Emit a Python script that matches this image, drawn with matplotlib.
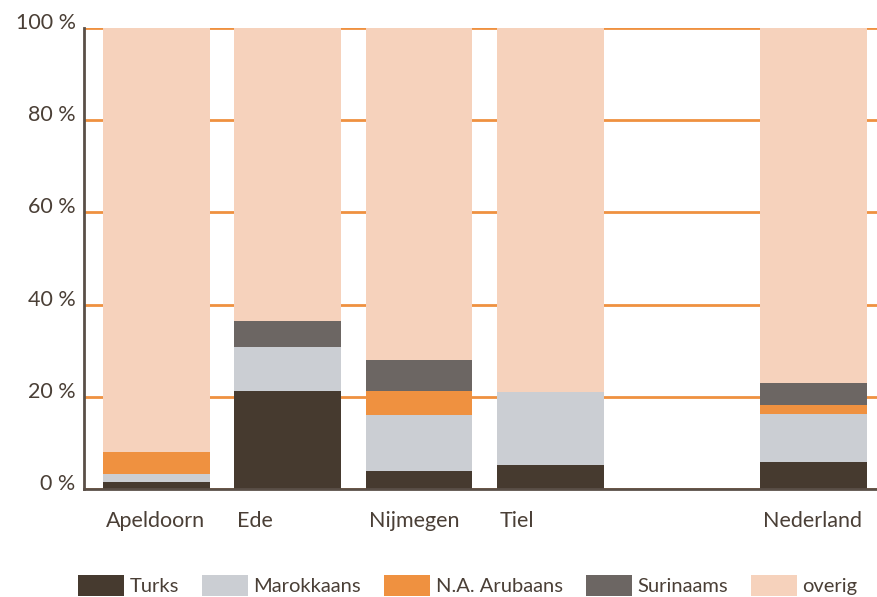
import matplotlib
matplotlib.use("Agg")
import matplotlib.pyplot as plt
import matplotlib.transforms as mtransforms
import numpy as np

plt.rcParams["font.family"] = ["Lato", "DejaVu Sans"]

# gemeenten (lege plek tussen Tiel en Nederland)
categories = ["Apeldoorn", "Ede", "Nijmegen", "Tiel", "", "Nederland"]
turks = [1.5, 21.2, 3.9, 5.2, 0, 5.8]
marokkaans = [1.7, 9.5, 12.1, 15.8, 0, 10.4]
na_arubaans = [4.8, 0.0, 5.2, 0.0, 0, 2.0]
surinaams = [0.0, 5.8, 6.7, 0.0, 0, 4.7]
has_bar = [True, True, True, True, False, True]
y_ticks = [0, 20, 40, 60, 80, 100]

series = [
    ("Turks", turks, "#463a2f"),
    ("Marokkaans", marokkaans, "#cbced3"),
    ("N.A. Arubaans", na_arubaans, "#ef9140"),
    ("Surinaams", surinaams, "#6c6663"),
]
text_col = "#4a3f36"
fs = 15.5

fig = plt.figure(figsize=(8.78, 5.97), dpi=100)
ax = fig.add_axes([0.0957, 0.181, 0.904, 0.772])

x = np.arange(len(categories))
w = 0.81
mask = np.array(has_bar)
bottom = np.zeros(len(categories))
handles = []
for name, vals, col in series:
    vals = np.array(vals, dtype=float)
    b = ax.bar(x[mask], vals[mask], w, bottom=bottom[mask], color=col, label=name, zorder=3)
    handles.append(b)
    bottom += vals
overig = 100 - bottom
b = ax.bar(x[mask], overig[mask], w, bottom=bottom[mask], color="#f6d2bc", label="overig", zorder=3)
handles.append(b)

ax.set_xlim(-0.55, 5.49)
ax.set_ylim(0, 100)
ax.set_yticks(y_ticks)
ax.set_yticklabels([f"{t} %" for t in y_ticks], fontsize=fs, color=text_col)
ax.yaxis.grid(True, color="#ef9140", lw=2, zorder=0)
ax.set_axisbelow(True)

# labels links uitgelijnd bij de balk
ax.set_xticks(x[mask] - w / 2 + 0.02)
ax.set_xticklabels([c for c, m in zip(categories, has_bar) if m], ha="left", fontsize=fs, color=text_col)
ax.tick_params(axis="both", length=0)
ax.tick_params(axis="x", pad=16)
ax.tick_params(axis="y", pad=6)

# y-labels iets boven de lijn
off = mtransforms.ScaledTranslation(0, 5 / 72, fig.dpi_scale_trans)
for lab in ax.get_yticklabels():
    lab.set_transform(lab.get_transform() + off)

for s in ["top", "right"]:
    ax.spines[s].set_visible(False)
for s in ["left", "bottom"]:
    ax.spines[s].set_color("#5a4f47")
    ax.spines[s].set_linewidth(2)
    ax.spines[s].set_zorder(4)

fig.legend(handles=handles, loc="upper left", bbox_to_anchor=(0.089, 0.037), ncol=5,
           frameon=False, fontsize=14.5, handlelength=2.3, handleheight=1.2,
           handletextpad=0.25, columnspacing=1.15, borderpad=0, borderaxespad=0,
           labelcolor=text_col)

fig.savefig("out.png", dpi=100)
